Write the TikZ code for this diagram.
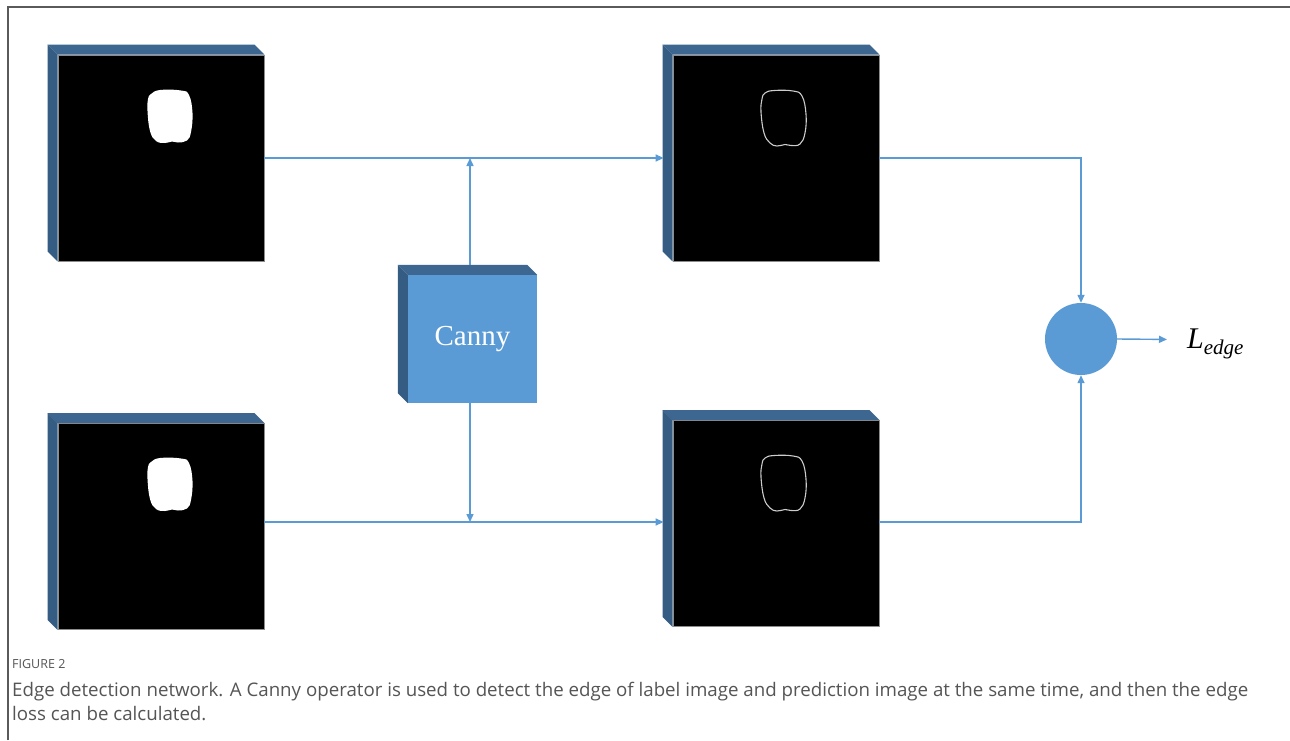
\documentclass[tikz,border=0pt]{standalone}
\usepackage{fontspec}
\setmainfont{Liberation Serif}
\newfontfamily\capfont{Open Sans}
\usetikzlibrary{arrows.meta,calc}
\definecolor{lineblue}{HTML}{5B9BD5}
\definecolor{cubetop}{HTML}{3D6690}
\definecolor{cubeleft}{HTML}{355C82}
\definecolor{framegray}{HTML}{5A5A5A}
\definecolor{captext}{HTML}{555555}
\tikzset{
  imgbox/.style={fill=black,draw=black!45,line width=0.8pt,inner sep=0pt,minimum width=206pt,minimum height=206pt},
  cannybox/.style={fill=lineblue,inner sep=0pt,minimum width=129pt,minimum height=128pt,text=white,font=\fontsize{29}{29}\selectfont},
  sumnode/.style={circle,fill=lineblue,inner sep=0pt,minimum size=72pt},
  arr/.style={draw=lineblue,line width=1.4pt,-{Triangle[length=8pt,width=7pt]}},
  blob/.style={fill=white},
  ring/.style={draw=black!20,line width=1.1pt},
}
\newcommand\drawcube[2]{%
  \fill[cubetop] (#1.north west) -- ++(-#2,-#2) -- ($(#1.north east)+(-#2,-#2)$) -- (#1.north east) -- cycle;
  \fill[cubeleft] (#1.north west) -- ++(-#2,-#2) -- ($(#1.south west)+(-#2,-#2)$) -- (#1.south west) -- cycle;
}
\begin{document}
\begin{tikzpicture}[x=1pt,y=-1pt]
\useasboundingbox (0,0) rectangle (1290,740);
\fill[white] (0,0) rectangle (1290,740);
% frame
\draw[framegray,line width=1.3pt] (8,740) -- (8,7) -- (1290,7);

% image nodes
\node[imgbox] (tl) at (161,158) {};
\node[imgbox] (bl) at (161,526.5) {};
\node[imgbox] (tr) at (776,158) {};
\node[imgbox] (br) at (776,523.5) {};
\drawcube{tl}{10}
\drawcube{bl}{10}
\drawcube{tr}{10}
\drawcube{br}{10}

% canny
\node[cannybox] (canny) at (472.5,339) {Canny};
\drawcube{canny}{10}

% blobs
\fill[blob] plot[smooth cycle,tension=0.7] coordinates {(151,94) (160,90) (181,90.5) (189,95) (192.5,113) (191,132) (187,140.5) (178,142.5) (172,141.5) (165,143) (156,141) (150,131) (147.5,111) (148,99)};
\fill[blob] plot[smooth cycle,tension=0.7] coordinates {(151,462) (160,458) (181,458.5) (189,463) (192.5,481) (191,500) (187,508.5) (178,510.5) (172,509.5) (165,511) (156,509) (150,499) (147.5,479) (148,467)};
\draw[ring] plot[smooth cycle,tension=0.7] coordinates {(765,93) (774,90.5) (793,91) (802,96) (806,114) (805,133) (800,144) (791,145.5) (785,144.5) (777,146) (770,143) (764,133) (761,112) (762,99)};
\draw[ring] plot[smooth cycle,tension=0.7] coordinates {(765,458) (774,455.5) (793,456) (802,461) (806,479) (805,498) (800,509) (791,510.5) (785,509.5) (777,511) (770,508) (764,498) (761,477) (762,464)};

% sum node
\node[sumnode] (sum) at (1081,339) {};
\node[anchor=base west,inner sep=0pt] (ledge) at (1187,348) {\fontsize{30}{30}\selectfont\textit{L}\raisebox{-6pt}{\fontsize{21}{21}\selectfont\textit{edge}}};

% connectors
\coordinate (tmid) at (470,158);
\coordinate (bmid) at (470,522);
\draw[arr] (tl.east) -- ($(tr.west)+(-9,0)$);
\draw[arr] ($(bl.east)+(0,-4.5)$) -- ($(br.west)+(-9,-1.5)$);
\draw[arr] ($(canny.north)+(-2.5,-10)$) -- (tmid);
\draw[arr] ($(canny.south)+(-2.5,0)$) -- (bmid);
\draw[arr] (tr.east) -| (sum.north);
\draw[arr] ($(br.east)+(0,-1.5)$) -| (sum.south);
\draw[arr] (sum.east) -- ($(ledge.west)+(-20,-4)$);

% caption
\node[anchor=base west,inner sep=0pt,text=captext,font=\capfont\fontsize{12.5}{12.5}\selectfont] (figlab) at (12,668) {FIGURE 2};
\node[anchor=base west,inner sep=0pt,text=captext,font=\capfont\fontsize{18.7}{18.7}\selectfont] (cap1) at (12,696) {Edge detection network. A Canny operator is used to detect the edge of label image and prediction image at the same time, and then the edge};
\node[anchor=base west,inner sep=0pt,text=captext,font=\capfont\fontsize{18.7}{18.7}\selectfont] (cap2) at (12,720) {loss can be calculated.};
\end{tikzpicture}
\end{document}
